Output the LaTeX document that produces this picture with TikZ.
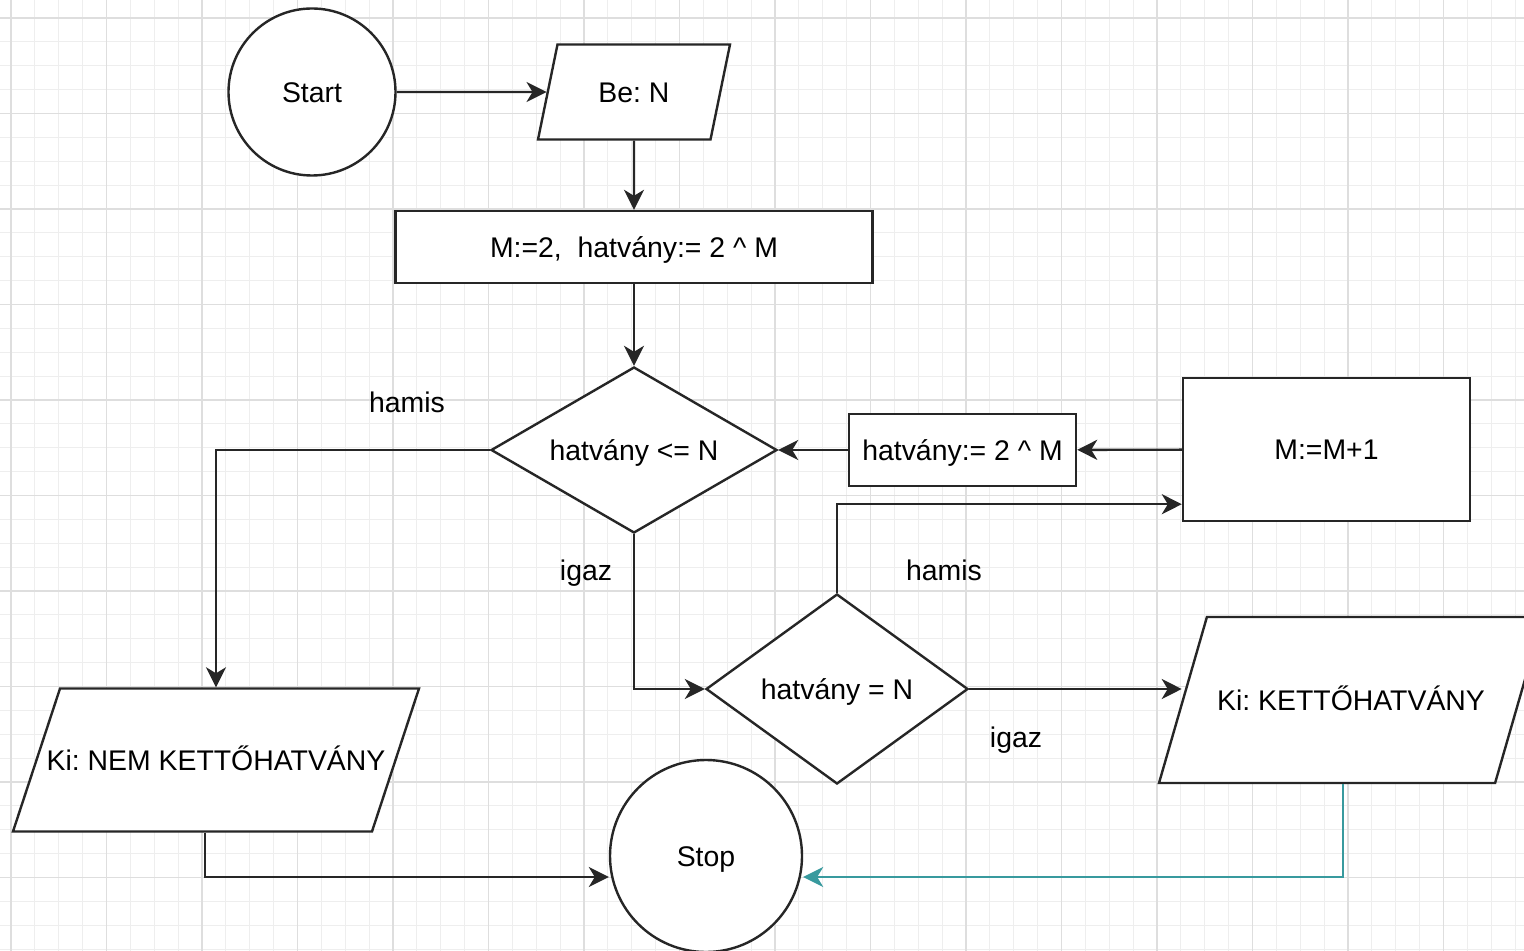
\documentclass[tikz,border=0pt]{standalone}
\usepackage{fontspec}
\setmainfont{Liberation Sans}
\usetikzlibrary{arrows.meta,shapes.geometric,positioning}
\definecolor{gridminor}{RGB}{238,238,238}
\definecolor{gridmajor}{RGB}{222,222,222}
\definecolor{flowteal}{RGB}{56,154,158}
\frenchspacing

\begin{document}
\begin{tikzpicture}[
  x=0.5pt,y=-0.5pt,
  font=\fontsize{14.2}{17}\selectfont,
  >={Stealth[length=10pt,width=10pt,inset=3pt]},
  flow/.style={draw=black!85,line width=1.2pt,fill=white,inner sep=0pt,align=center,text height=10.2pt,text depth=0pt},
  term/.style={flow,circle},
  proc/.style={flow,rectangle},
  cond/.style={flow,diamond},
  io/.style={flow,trapezium,trapezium stretches body=true},
  link/.style={->,line width=1.2pt,draw=black!85},
  lbl/.style={inner sep=0pt,text height=10.2pt,text depth=0pt}
]
  \useasboundingbox[fill=white] (0,0) rectangle (1524,951);
  % grid
  \foreach \k in {0,...,64} \draw[gridminor,line width=0.5pt] ({-12.875+23.875*\k},0) -- ++(0,951);
  \foreach \k in {0,...,40} \draw[gridminor,line width=0.5pt] (0,{-5.875+23.875*\k}) -- ++(1524,0);
  \foreach \k in {0,...,15} \draw[gridmajor,line width=0.7pt] ({11+95.5*\k},0) -- ++(0,951);
  \foreach \k in {0,...,9} \draw[gridmajor,line width=0.7pt] (0,{18+95.5*\k}) -- ++(1524,0);

  \node[term,minimum size=83.5pt] (start) at (312,92) {Start};
  \node[io,trapezium left angle=78.4,trapezium right angle=101.6,minimum width=96pt,inner ysep=18.65pt] (be) at (634,92) {Be: N};
  \node[proc,minimum width=238.5pt,minimum height=36pt] (init) at (634,247) {M:=2,\ \ hatvány:= 2 \textasciicircum\ M};
  \node[cond,aspect=1.7,minimum width=143pt,minimum height=83pt] (le) at (634,450) {hatvány <= N};
  \node[proc,minimum width=113.5pt,minimum height=36pt] (pow) at (962.5,450) {hatvány:= 2 \textasciicircum\ M};
  \node[proc,minimum width=143.5pt,minimum height=71.5pt] (inc) at (1326.5,449.5) {M:=M+1};
  \node[cond,aspect=1.4,minimum width=131pt,minimum height=95pt] (eq) at (837,689) {hatvány = N};
  \node[io,trapezium left angle=71.8,trapezium right angle=108.2,minimum width=203pt,inner ysep=30.65pt,inner xsep=-7.5pt] (nem) at (216,760) {Ki: NEM KETTŐHATVÁNY};
  \node[io,trapezium left angle=73.9,trapezium right angle=106.1,minimum width=192pt,inner ysep=36.4pt] (ki) at (1351,700) {Ki: KETTŐHATVÁNY};
  \node[term,minimum size=96pt] (stop) at (706,856) {Stop};

  \draw[link] (start) -- (be);
  \draw[link] (be) -- (init);
  \draw[link] (init) -- (le);
  \draw[link] (inc) -- (pow);
  \draw[link] (pow) -- (le);
  \draw[link] (le.west) -| (nem);
  \draw[link] (le.south) |- (eq.west);
  \draw[link] (eq.north) |- ([yshift=9pt]inc.south west);
  \draw[link] (eq.east) -- (eq.east -| ki.left side);
  \draw[link] ([xshift=-5.5pt]nem.south) |- ([yshift=-10.5pt]stop.west);
  \draw[link,draw=flowteal,line width=1pt] ([xshift=-4pt]ki.south) |- ([yshift=-10.5pt]stop.east);

  \node[lbl] (hamisa) at (407,402) {hamis};
  \node[lbl] (igaza) at (586,570) {igaz};
  \node[lbl] (hamisb) at (944,570) {hamis};
  \node[lbl] (igazb) at (1016,737) {igaz};
\end{tikzpicture}
\end{document}
